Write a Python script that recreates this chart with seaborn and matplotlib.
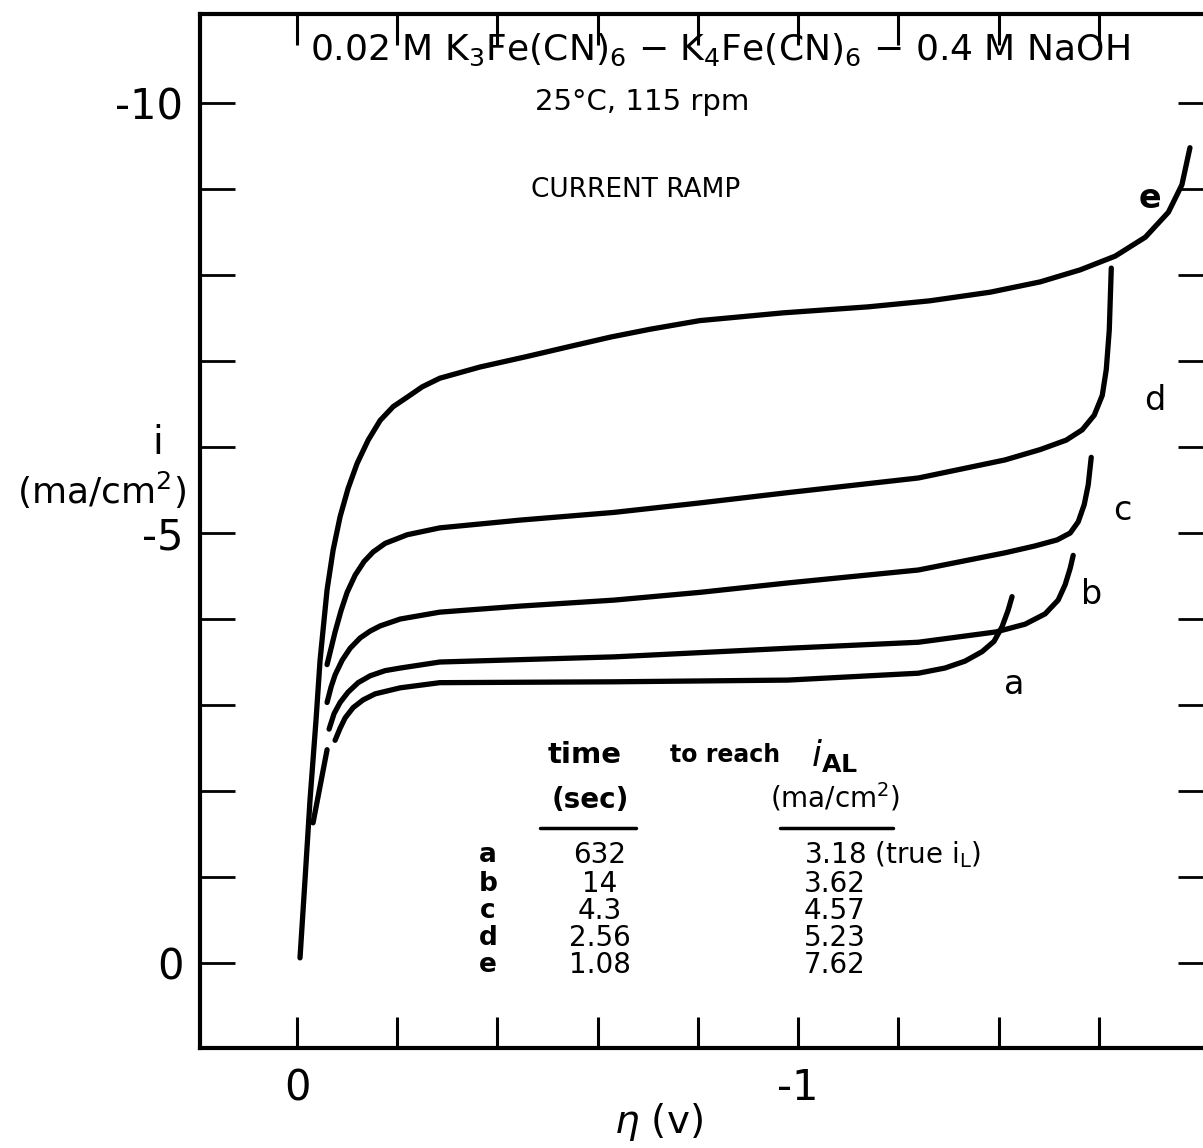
import numpy as np
import pandas as pd
import matplotlib
matplotlib.use("Agg")
import matplotlib.pyplot as plt
import seaborn as sns

# Overpotential (V) and current density (mA/cm^2) for each current-ramp trace
eta_e = [-0.006, -0.016, -0.026, -0.038, -0.046, -0.054, -0.060, -0.072, -0.086, -0.102,
         -0.120, -0.142, -0.166, -0.192, -0.220, -0.250, -0.285, -0.365, -0.457, -0.545,
         -0.627, -0.705, -0.804, -0.970, -1.140, -1.263, -1.383, -1.483, -1.563, -1.633,
         -1.693, -1.739, -1.766, -1.782]
i_e = [-0.06, -0.97, -1.90, -2.83, -3.52, -3.99, -4.34, -4.80, -5.19, -5.52,
       -5.81, -6.08, -6.31, -6.47, -6.58, -6.70, -6.80, -6.93, -7.05, -7.17,
       -7.28, -7.37, -7.47, -7.56, -7.63, -7.70, -7.80, -7.92, -8.06, -8.22,
       -8.44, -8.73, -9.05, -9.48]

eta_d = [-0.060, -0.068, -0.076, -0.088, -0.100, -0.116, -0.134, -0.152, -0.176, -0.220,
         -0.285, -0.445, -0.633, -0.804, -0.980, -1.240, -1.413, -1.483, -1.535, -1.567,
         -1.591, -1.607, -1.615, -1.621, -1.625]
i_d = [-3.47, -3.66, -3.85, -4.10, -4.31, -4.51, -4.67, -4.78, -4.88, -4.98,
       -5.06, -5.15, -5.24, -5.35, -5.47, -5.64, -5.85, -5.97, -6.08, -6.20,
       -6.37, -6.60, -6.90, -7.36, -8.08]

eta_c = [-0.060, -0.068, -0.076, -0.090, -0.106, -0.126, -0.146, -0.166, -0.206, -0.285,
         -0.445, -0.633, -0.804, -0.980, -1.240, -1.413, -1.473, -1.517, -1.543, -1.559,
         -1.571, -1.579, -1.585]
i_c = [-3.03, -3.21, -3.35, -3.52, -3.66, -3.78, -3.86, -3.92, -4.00, -4.08,
       -4.15, -4.22, -4.31, -4.42, -4.57, -4.77, -4.85, -4.92, -5.00, -5.13,
       -5.33, -5.56, -5.88]

eta_b = [-0.064, -0.074, -0.086, -0.102, -0.122, -0.146, -0.176, -0.206, -0.285, -0.633,
         -0.980, -1.240, -1.395, -1.453, -1.493, -1.519, -1.533, -1.543, -1.549]
i_b = [-2.72, -2.90, -3.03, -3.15, -3.26, -3.34, -3.40, -3.43, -3.50, -3.56,
       -3.66, -3.73, -3.85, -3.94, -4.06, -4.22, -4.40, -4.59, -4.74]

eta_a = [-0.076, -0.086, -0.096, -0.112, -0.132, -0.156, -0.206, -0.285, -0.633, -0.980,
         -1.240, -1.293, -1.333, -1.367, -1.391, -1.407, -1.419, -1.427]
i_a = [-2.59, -2.73, -2.85, -2.97, -3.06, -3.13, -3.20, -3.26, -3.27, -3.29,
       -3.37, -3.43, -3.51, -3.62, -3.74, -3.91, -4.10, -4.26]

# short starting segment of the lowest trace
eta_a0 = [-0.032, -0.060]
i_a0 = [-1.63, -2.48]

# table of ramp results
run_labels = ["a", "b", "c", "d", "e"]
ramp_times = ["632", "14", "4.3", "2.56", "1.08"]
i_al_values = ["3.18", "3.62", "4.57", "5.23", "7.62"]

x_ticks = [0.0, -0.2, -0.4, -0.6, -0.8, -1.0, -1.2, -1.4, -1.6]
x_ticklabels = ["0", "", "", "", "", "-1", "", "", ""]
y_minor = [0, -1, -2, -3, -4, -5, -6, -7, -8, -9, -10]
y_major = [0, -5, -10]
y_ticklabels = ["0", "-5", "-10"]

segments = {"e": (eta_e, i_e), "d": (eta_d, i_d), "c": (eta_c, i_c),
            "b": (eta_b, i_b), "a": (eta_a, i_a), "a0": (eta_a0, i_a0)}
frames = [pd.DataFrame({"eta": xs, "i": ys, "seg": name}) for name, (xs, ys) in segments.items()]
df = pd.concat(frames, ignore_index=True)

sns.set_style("ticks")
plt.rcParams["font.family"] = ["DejaVu Sans"]
plt.rcParams["mathtext.fontset"] = "dejavusans"
plt.rcParams["text.color"] = "black"
plt.rcParams["xtick.color"] = "black"
plt.rcParams["ytick.color"] = "black"

W, H = 1203, 1148
fig = plt.figure(figsize=(W / 100, H / 100), dpi=100)
fig.patch.set_facecolor("white")

# axes box spans slightly past the right edge of the page
left_px, right_px, top_px, bottom_px = 200, 1213, 14, 1048
ax = fig.add_axes([left_px / W, 1 - bottom_px / H, (right_px - left_px) / W, (bottom_px - top_px) / H])

sns.lineplot(data=df, x="eta", y="i", units="seg", estimator=None, sort=False,
             color="black", lw=3.8, legend=False, ax=ax,
             solid_capstyle="round", solid_joinstyle="round")

ax.set_xlim(0.1936, -1.828)
ax.set_ylim(0.988, -11.035)

for s in ax.spines.values():
    s.set_visible(True)
    s.set_linewidth(3.0)
    s.set_color("black")

ax.set_xticks(x_ticks)
ax.set_xticklabels(x_ticklabels)
ax.tick_params(axis="x", which="major", direction="in", length=22, width=2.2,
               top=True, bottom=True, labelsize=30, pad=14, colors="black")
ax.set_yticks(y_minor, minor=True)
ax.set_yticks(y_major)
ax.set_yticklabels(y_ticklabels)
ax.tick_params(axis="y", which="both", direction="in", length=25, width=2.0,
               left=True, right=True, colors="black")
ax.tick_params(axis="y", which="major", labelsize=30, pad=12)
ax.set_xlabel("")
ax.set_ylabel("")


def ftext(x, y, s, **kw):
    kw.setdefault("color", "black")
    fig.text(x / W, 1 - y / H, s, **kw)


# heading block
ftext(720, 50, r"0.02 M K$_3$Fe(CN)$_6$ $-$ K$_4$Fe(CN)$_6$ $-$ 0.4 M NaOH",
      ha="center", va="center", fontsize=26)
ftext(642, 102, "25\u00b0C, 115 rpm", ha="center", va="center", fontsize=21)
ftext(636, 190, "CURRENT RAMP", ha="center", va="center", fontsize=19)

# axis titles
ftext(158, 443, "i", ha="center", va="center", fontsize=28)
ftext(102, 490, r"(ma/cm$^2$)", ha="center", va="center", fontsize=26)
ftext(658, 1122, r"$\eta$ (v)", ha="center", va="center", fontsize=28)

# curve letters
for lab, (x, y), wt in zip(["e", "d", "c", "b", "a"],
                           [(1150, 198), (1155, 400), (1122, 510), (1092, 595), (1014, 685)],
                           ["bold", "normal", "normal", "normal", "normal"]):
    ftext(x, y, lab, ha="center", va="center", fontsize=24, fontweight=wt)

# results table
ftext(585, 755, "time", ha="center", va="center", fontsize=21, fontweight="bold")
ftext(725, 755, "to reach", ha="center", va="center", fontsize=17, fontweight="bold")
ftext(835, 755, r"$i_{\mathbf{AL}}$", ha="center", va="center", fontsize=26)
ftext(590, 800, "(sec)", ha="center", va="center", fontsize=20, fontweight="bold")
ftext(835, 797, r"(ma/cm$^2$)", ha="center", va="center", fontsize=20)
fig.add_artist(plt.Line2D([540 / W, 636 / W], [1 - 828 / H, 1 - 828 / H], color="black", lw=2.5))
fig.add_artist(plt.Line2D([780 / W, 893 / W], [1 - 828 / H, 1 - 828 / H], color="black", lw=2.5))

row_y = [855, 884, 911, 938, 965]
for lab, t, v, y in zip(run_labels, ramp_times, i_al_values, row_y):
    ftext(488, y, lab, ha="center", va="center", fontsize=19, fontweight="bold")
    ftext(600, y, t, ha="center", va="center", fontsize=20)
    val = v + r" (true i$_\mathrm{L}$)" if lab == "a" else v
    ftext(804, y, val, ha="left", va="center", fontsize=20)

fig.savefig("out.png", dpi=100, facecolor="white")
